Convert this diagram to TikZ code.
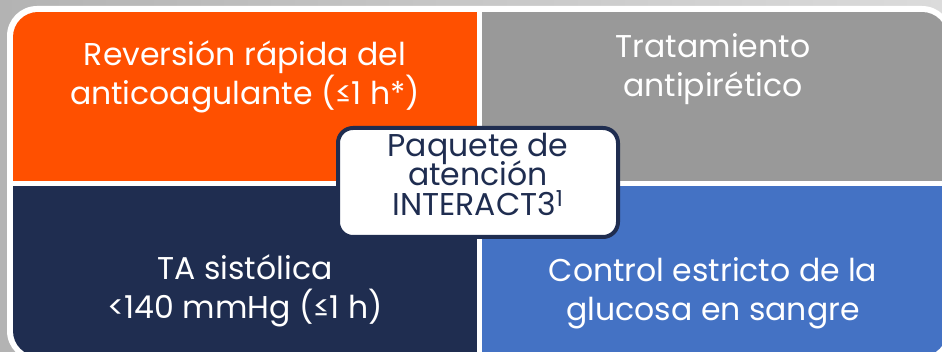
\documentclass[tikz,border=0pt]{standalone}
\usepackage{fontspec}
\setmainfont{Poppins}
\usepackage{xcolor}
\usepackage{tikz}
\usetikzlibrary{positioning}
\definecolor{bgLeft}{HTML}{B3B3B3}
\definecolor{bgRight}{HTML}{DBDBDB}
\definecolor{quadOrange}{HTML}{FF5000}
\definecolor{quadGrey}{HTML}{999999}
\definecolor{quadNavy}{HTML}{1F2D50}
\definecolor{quadBlue}{HTML}{4472C4}
\newcommand{\hubfont}{\fontsize{31.5}{29.5}\selectfont\lineskiplimit=-20pt\relax}

\begin{document}
\begin{tikzpicture}
  [ x=1pt, y=-1pt,
    quadtext/.style={text=white, align=center, inner sep=0pt,
      font=\fontsize{31.5}{39}\selectfont, anchor=base},
    hub/.style={draw=quadNavy, line width=4pt, fill=white,
      rounded corners=15pt, minimum width=280pt, minimum height=109pt,
      text=quadNavy, align=center, inner sep=0pt, font=\hubfont}
  ]
  \useasboundingbox (0,0) rectangle (942,352);
  \clip (0,0) rectangle (942,352);
  \shade [left color=bgLeft, right color=bgRight] (0,0) rectangle (942,352);

  % white frame round the four fields
  \fill [white, rounded corners=30pt] (7,6) rectangle (952,361);

  \begin{scope}
    \clip [rounded corners=25pt] (13,12) rectangle (947,356);
    \fill [quadOrange] (13,12)   rectangle (477,181);
    \fill [quadGrey]   (482,12)  rectangle (947,181);
    \fill [quadNavy]   (13,186)  rectangle (477,356);
    \fill [quadBlue]   (482,186) rectangle (947,356);
  \end{scope}

  % anchor base = baseline of the last line
  \node (reversal) at (245,105) [quadtext]
    {Reversión rápida del\\anticoagulante (≤1 h*)};
  \node (fever)    at (713,97) [quadtext]
    {Tratamiento\\antipirético};
  \node (bloodPressure) at (245,319) [quadtext]
    {TA sistólica\\<140 mmHg (≤1 h)};
  \node (glucose)  at (713,321) [quadtext]
    {Control estricto de la\\glucosa en sangre};

  \node (bundle) at (478,182.5) [hub]
    {Paquete de\\atención\\INTERACT3\textsuperscript{1}\\[-13pt]};
\end{tikzpicture}
\end{document}
